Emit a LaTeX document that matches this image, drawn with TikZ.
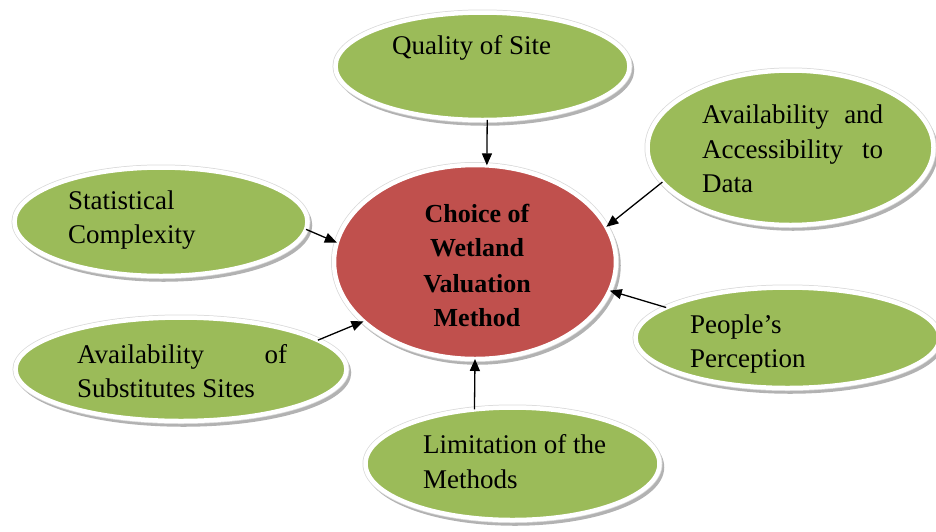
\documentclass[tikz,border=0pt]{standalone}
\usepackage{fontspec}
\setmainfont{Liberation Serif}
\usetikzlibrary{shapes.geometric,shadows,arrows.meta}
\definecolor{leaf}{HTML}{9BBB59}
\definecolor{brick}{HTML}{C0504D}
\begin{document}
\begin{tikzpicture}[x=1pt,y=-1pt,
  bubble/.style={ellipse, fill=leaf, draw=white, line width=4.5pt, inner sep=0pt, outer sep=0pt,
    drop shadow={shadow xshift=2.5pt, shadow yshift=-3.5pt, fill=gray!60, draw=gray!60, line width=4.5pt, opacity=1},
    preaction={draw=gray!30, line width=6pt}},
  hub/.style={bubble, fill=brick},
  txt/.style={anchor=base west, inner sep=0pt, font=\fontsize{27}{34}\selectfont},
  mtxt/.style={anchor=base, inner sep=0pt, font=\fontsize{26}{34}\selectfont\bfseries},
  arr/.style={-{Triangle[length=12pt,width=10pt]}, line width=1.3pt, black}]
\useasboundingbox (0,0) rectangle (936,531);

\node[hub, minimum width=282pt, minimum height=194pt] (main) at (475,262) {};
\node[bubble, minimum width=294pt, minimum height=107.5pt] (qs) at (482.5,66.25) {};
\node[bubble, minimum width=293pt, minimum height=108.5pt] (stat) at (161,221.75) {};
\node[bubble, minimum width=331pt, minimum height=103.5pt] (subs) at (181,369.25) {};
\node[bubble, minimum width=286pt, minimum height=154.5pt] (data) at (790.5,147.75) {};
\node[bubble, minimum width=304pt, minimum height=100.5pt] (ppl) at (787.5,337.75) {};
\node[bubble, minimum width=294pt, minimum height=112.5pt] (lim) at (512.5,463.75) {};

\node[txt] (qst) at (392,54) {Quality of Site};
\node[txt] (st1) at (68,209) {Statistical};
\node[txt] (st2) at (68,243) {Complexity};
\node[txt] (sb1) at (77,363) {\hbox to 210pt{Availability\hfill of}};
\node[txt] (sb2) at (77,397) {Substitutes Sites};
\node[txt] (dt1) at (702,123) {\hbox to 181pt{Availability\hfill and}};
\node[txt] (dt2) at (702,158) {\hbox to 181pt{Accessibility\hfill to}};
\node[txt] (dt3) at (702,192) {Data};
\node[txt] (pp1) at (690,333) {People’s};
\node[txt] (pp2) at (690,367) {Perception};
\node[txt] (lm1) at (423,453) {Limitation of the};
\node[txt] (lm2) at (423,488) {Methods};

\node[mtxt] (m1) at (477,222) {Choice of};
\node[mtxt] (m2) at (477,256) {Wetland};
\node[mtxt] (m3) at (477,292) {Valuation};
\node[mtxt] (m4) at (477,326) {Method};

\draw[arr] (qs.275) -- (main.83.3);
\draw[arr] (stat.357) -- (main.172);
\draw[arr] (subs.12) -- (main.208);
\draw[arr] (data.195) -- (main.15);
\draw[arr] (ppl.166) -- (main.348);
\draw[arr] (lim.125) -- (main.270);
\end{tikzpicture}
\end{document}
